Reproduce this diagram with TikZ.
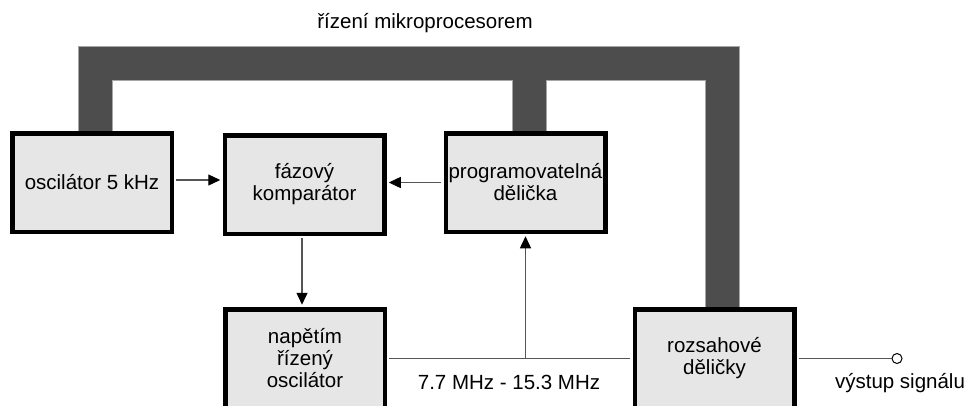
\documentclass[tikz,border=0pt]{standalone}
\usepackage{fontspec}
\setmainfont{Liberation Sans}
\usetikzlibrary{arrows.meta,backgrounds}
\definecolor{boxgray}{HTML}{E6E6E6}
\definecolor{busgray}{HTML}{4D4D4D}
\definecolor{linegray}{HTML}{555555}
\tikzset{
  blok/.style={draw=black, line width=4.5pt, fill=boxgray, minimum width=159.5pt,
    minimum height=98.5pt, inner sep=0pt, align=center},
  vodic/.style={draw=linegray, line width=1.4pt, shorten <=2.25pt},
  sig/.style={vodic, -{Triangle[length=12pt,width=11pt,color=black]}, shorten >=2.25pt},
  sbernice/.style={draw=busgray, line width=33pt, preaction={draw=gray!70, line width=35pt}},
}
\begin{document}
\begin{tikzpicture}[x=1pt, y=1pt, font=\fontsize{20.5}{22}\selectfont]
    \useasboundingbox (0,0) rectangle (969,-405);
    \clip (0,0) rectangle (969,-405);
    \node[blok] (osc) at (92,-182.5) {oscilátor 5 kHz};
    \node[blok] (komp) at (304.5,-184.5) {fázový\\komparátor};
    \node[blok] (prog) at (525.5,-182.5) {programovatelná\\dělička};
    \node[blok] (nap) at (305,-358.5) {napětím\\řízený\\oscilátor};
    \node[blok] (rozs) at (714.5,-358.5) {rozsahové\\děličky};
    \node[draw=black, circle, line width=1pt, fill=white, minimum size=10pt, inner sep=0pt] (vystup) at (897,-358.5) {};
    \coordinate (odbocka) at (nap.east -| prog.south);
    \coordinate (bus) at (529.5,-63);
    \begin{scope}[on background layer]
        \draw[sbernice] ([xshift=3pt]osc.north) |- (bus) -| ([xshift=8pt]rozs.north)
            (bus) -- (bus |- prog.north);
    \end{scope}
    \draw[sig] ([yshift=2.5pt]osc.east) -- ([yshift=2.5pt]osc.east -| komp.west);
    \draw[sig] (prog.west) -- (prog.west -| komp.east);
    \draw[sig] ([xshift=-2.5pt]komp.south) -- ([xshift=-2.5pt]komp.south |- nap.north);
    \draw[vodic, shorten >=2.25pt] (nap.east) -- (rozs.west);
    \draw[sig, shorten <=0pt] (odbocka) -- (prog.south);
    \draw[vodic] (rozs.east) -- (vystup);
    \node (rizeni) at (425,-23) {řízení mikroprocesorem};
    \node (pasmo) at (509,-382) {7.7 MHz - 15.3 MHz};
    \node (vystuptext) at (900,-383) {výstup signálu};
\end{tikzpicture}
\end{document}
